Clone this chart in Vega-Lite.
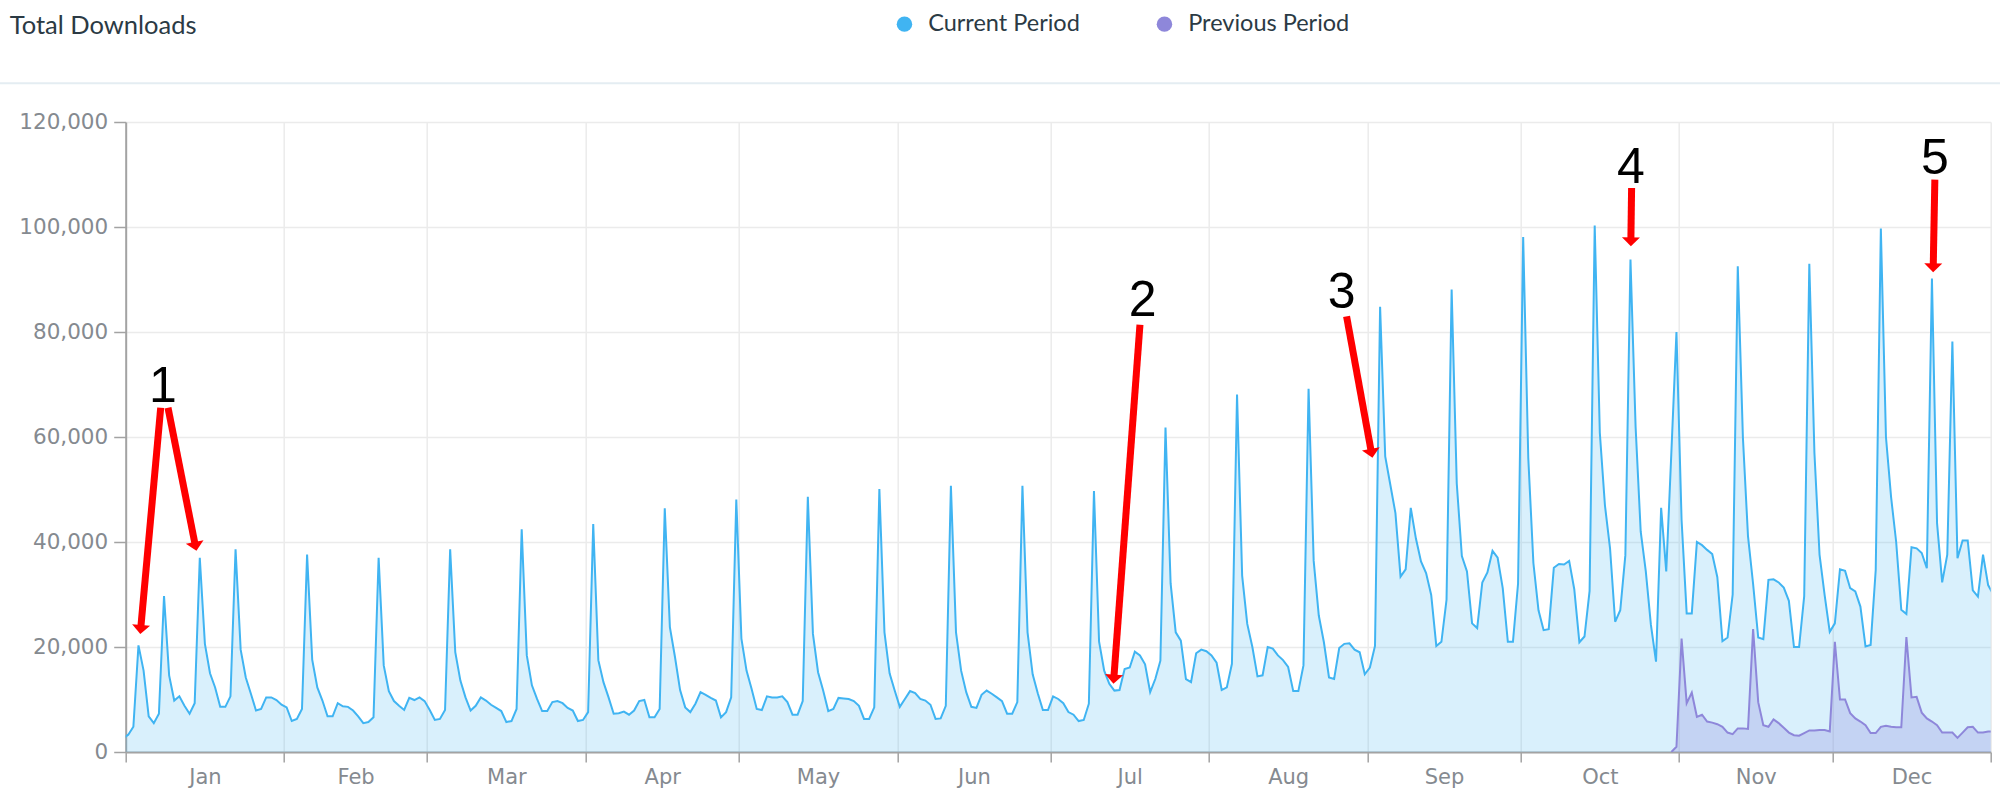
{
  "$schema": "https://vega.github.io/schema/vega-lite/v6.json",
  "width": 1865,
  "height": 630,
  "autosize": {"type": "none"},
  "padding": {"left": 125.7, "top": 122, "right": 9.3, "bottom": 43},
  "background": "white",
  "config": {"view": {"stroke": null}, "font": "DejaVu Sans"},
  "title": {"text": "Total Downloads", "anchor": "start", "frame": "group", "font": "Lato", "fontSize": 25.5, "fontWeight": "normal", "color": "#2b3a44", "dx": -116, "dy": 47, "offset": 0, "baseline": "alphabetic"},
  "datasets": {
    "downloads": [
      {"day":"2018-12-31T12:00","period":"Current Period","downloads":2600},
      {"day":"2019-01-01T12:00","period":"Current Period","downloads":3300},
      {"day":"2019-01-02T12:00","period":"Current Period","downloads":4800},
      {"day":"2019-01-03T12:00","period":"Current Period","downloads":20300},
      {"day":"2019-01-04T12:00","period":"Current Period","downloads":15500},
      {"day":"2019-01-05T12:00","period":"Current Period","downloads":6800},
      {"day":"2019-01-06T12:00","period":"Current Period","downloads":5500},
      {"day":"2019-01-07T12:00","period":"Current Period","downloads":7300},
      {"day":"2019-01-08T12:00","period":"Current Period","downloads":29700},
      {"day":"2019-01-09T12:00","period":"Current Period","downloads":14600},
      {"day":"2019-01-10T12:00","period":"Current Period","downloads":9800},
      {"day":"2019-01-11T12:00","period":"Current Period","downloads":10600},
      {"day":"2019-01-12T12:00","period":"Current Period","downloads":8800},
      {"day":"2019-01-13T12:00","period":"Current Period","downloads":7300},
      {"day":"2019-01-14T12:00","period":"Current Period","downloads":9300},
      {"day":"2019-01-15T12:00","period":"Current Period","downloads":37000},
      {"day":"2019-01-16T12:00","period":"Current Period","downloads":20600},
      {"day":"2019-01-17T12:00","period":"Current Period","downloads":15000},
      {"day":"2019-01-18T12:00","period":"Current Period","downloads":12300},
      {"day":"2019-01-19T12:00","period":"Current Period","downloads":8600},
      {"day":"2019-01-20T12:00","period":"Current Period","downloads":8600},
      {"day":"2019-01-21T12:00","period":"Current Period","downloads":10600},
      {"day":"2019-01-22T12:00","period":"Current Period","downloads":38600},
      {"day":"2019-01-23T12:00","period":"Current Period","downloads":19500},
      {"day":"2019-01-24T12:00","period":"Current Period","downloads":14200},
      {"day":"2019-01-25T12:00","period":"Current Period","downloads":11100},
      {"day":"2019-01-26T12:00","period":"Current Period","downloads":7900},
      {"day":"2019-01-27T12:00","period":"Current Period","downloads":8200},
      {"day":"2019-01-28T12:00","period":"Current Period","downloads":10400},
      {"day":"2019-01-29T12:00","period":"Current Period","downloads":10400},
      {"day":"2019-01-30T12:00","period":"Current Period","downloads":9900},
      {"day":"2019-01-31T12:00","period":"Current Period","downloads":9000},
      {"day":"2019-02-01T12:00","period":"Current Period","downloads":8500},
      {"day":"2019-02-02T12:00","period":"Current Period","downloads":5900},
      {"day":"2019-02-03T12:00","period":"Current Period","downloads":6300},
      {"day":"2019-02-04T12:00","period":"Current Period","downloads":8200},
      {"day":"2019-02-05T12:00","period":"Current Period","downloads":37600},
      {"day":"2019-02-06T12:00","period":"Current Period","downloads":17600},
      {"day":"2019-02-07T12:00","period":"Current Period","downloads":12300},
      {"day":"2019-02-08T12:00","period":"Current Period","downloads":9800},
      {"day":"2019-02-09T12:00","period":"Current Period","downloads":6800},
      {"day":"2019-02-10T12:00","period":"Current Period","downloads":6800},
      {"day":"2019-02-11T12:00","period":"Current Period","downloads":9300},
      {"day":"2019-02-12T12:00","period":"Current Period","downloads":8700},
      {"day":"2019-02-13T12:00","period":"Current Period","downloads":8600},
      {"day":"2019-02-14T12:00","period":"Current Period","downloads":7900},
      {"day":"2019-02-15T12:00","period":"Current Period","downloads":6800},
      {"day":"2019-02-16T12:00","period":"Current Period","downloads":5500},
      {"day":"2019-02-17T12:00","period":"Current Period","downloads":5700},
      {"day":"2019-02-18T12:00","period":"Current Period","downloads":6600},
      {"day":"2019-02-19T12:00","period":"Current Period","downloads":37000},
      {"day":"2019-02-20T12:00","period":"Current Period","downloads":16500},
      {"day":"2019-02-21T12:00","period":"Current Period","downloads":11600},
      {"day":"2019-02-22T12:00","period":"Current Period","downloads":9700},
      {"day":"2019-02-23T12:00","period":"Current Period","downloads":8800},
      {"day":"2019-02-24T12:00","period":"Current Period","downloads":8000},
      {"day":"2019-02-25T12:00","period":"Current Period","downloads":10300},
      {"day":"2019-02-26T12:00","period":"Current Period","downloads":9900},
      {"day":"2019-02-27T12:00","period":"Current Period","downloads":10400},
      {"day":"2019-02-28T12:00","period":"Current Period","downloads":9700},
      {"day":"2019-03-01T12:00","period":"Current Period","downloads":8000},
      {"day":"2019-03-02T12:00","period":"Current Period","downloads":6100},
      {"day":"2019-03-03T12:00","period":"Current Period","downloads":6300},
      {"day":"2019-03-04T12:00","period":"Current Period","downloads":8000},
      {"day":"2019-03-05T12:00","period":"Current Period","downloads":38600},
      {"day":"2019-03-06T12:00","period":"Current Period","downloads":19000},
      {"day":"2019-03-07T12:00","period":"Current Period","downloads":13600},
      {"day":"2019-03-08T12:00","period":"Current Period","downloads":10400},
      {"day":"2019-03-09T12:00","period":"Current Period","downloads":7900},
      {"day":"2019-03-10T12:00","period":"Current Period","downloads":8800},
      {"day":"2019-03-11T12:00","period":"Current Period","downloads":10400},
      {"day":"2019-03-12T12:00","period":"Current Period","downloads":9800},
      {"day":"2019-03-13T12:00","period":"Current Period","downloads":9000},
      {"day":"2019-03-14T12:00","period":"Current Period","downloads":8400},
      {"day":"2019-03-15T12:00","period":"Current Period","downloads":7800},
      {"day":"2019-03-16T12:00","period":"Current Period","downloads":5700},
      {"day":"2019-03-17T12:00","period":"Current Period","downloads":5900},
      {"day":"2019-03-18T12:00","period":"Current Period","downloads":8200},
      {"day":"2019-03-19T12:00","period":"Current Period","downloads":42400},
      {"day":"2019-03-20T12:00","period":"Current Period","downloads":18400},
      {"day":"2019-03-21T12:00","period":"Current Period","downloads":12700},
      {"day":"2019-03-22T12:00","period":"Current Period","downloads":10100},
      {"day":"2019-03-23T12:00","period":"Current Period","downloads":7800},
      {"day":"2019-03-24T12:00","period":"Current Period","downloads":7800},
      {"day":"2019-03-25T12:00","period":"Current Period","downloads":9500},
      {"day":"2019-03-26T12:00","period":"Current Period","downloads":9700},
      {"day":"2019-03-27T12:00","period":"Current Period","downloads":9300},
      {"day":"2019-03-28T12:00","period":"Current Period","downloads":8400},
      {"day":"2019-03-29T12:00","period":"Current Period","downloads":7900},
      {"day":"2019-03-30T12:00","period":"Current Period","downloads":5900},
      {"day":"2019-03-31T12:00","period":"Current Period","downloads":6100},
      {"day":"2019-04-01T12:00","period":"Current Period","downloads":7600},
      {"day":"2019-04-02T12:00","period":"Current Period","downloads":43400},
      {"day":"2019-04-03T12:00","period":"Current Period","downloads":17500},
      {"day":"2019-04-04T12:00","period":"Current Period","downloads":13300},
      {"day":"2019-04-05T12:00","period":"Current Period","downloads":10400},
      {"day":"2019-04-06T12:00","period":"Current Period","downloads":7300},
      {"day":"2019-04-07T12:00","period":"Current Period","downloads":7400},
      {"day":"2019-04-08T12:00","period":"Current Period","downloads":7700},
      {"day":"2019-04-09T12:00","period":"Current Period","downloads":7100},
      {"day":"2019-04-10T12:00","period":"Current Period","downloads":7900},
      {"day":"2019-04-11T12:00","period":"Current Period","downloads":9700},
      {"day":"2019-04-12T12:00","period":"Current Period","downloads":9900},
      {"day":"2019-04-13T12:00","period":"Current Period","downloads":6600},
      {"day":"2019-04-14T12:00","period":"Current Period","downloads":6600},
      {"day":"2019-04-15T12:00","period":"Current Period","downloads":8200},
      {"day":"2019-04-16T12:00","period":"Current Period","downloads":46400},
      {"day":"2019-04-17T12:00","period":"Current Period","downloads":23800},
      {"day":"2019-04-18T12:00","period":"Current Period","downloads":18100},
      {"day":"2019-04-19T12:00","period":"Current Period","downloads":11800},
      {"day":"2019-04-20T12:00","period":"Current Period","downloads":8500},
      {"day":"2019-04-21T12:00","period":"Current Period","downloads":7600},
      {"day":"2019-04-22T12:00","period":"Current Period","downloads":9200},
      {"day":"2019-04-23T12:00","period":"Current Period","downloads":11400},
      {"day":"2019-04-24T12:00","period":"Current Period","downloads":10900},
      {"day":"2019-04-25T12:00","period":"Current Period","downloads":10300},
      {"day":"2019-04-26T12:00","period":"Current Period","downloads":9800},
      {"day":"2019-04-27T12:00","period":"Current Period","downloads":6600},
      {"day":"2019-04-28T12:00","period":"Current Period","downloads":7600},
      {"day":"2019-04-29T12:00","period":"Current Period","downloads":10400},
      {"day":"2019-04-30T12:00","period":"Current Period","downloads":48100},
      {"day":"2019-05-01T12:00","period":"Current Period","downloads":21600},
      {"day":"2019-05-02T12:00","period":"Current Period","downloads":15500},
      {"day":"2019-05-03T12:00","period":"Current Period","downloads":12000},
      {"day":"2019-05-04T12:00","period":"Current Period","downloads":8200},
      {"day":"2019-05-05T12:00","period":"Current Period","downloads":8000},
      {"day":"2019-05-06T12:00","period":"Current Period","downloads":10600},
      {"day":"2019-05-07T12:00","period":"Current Period","downloads":10400},
      {"day":"2019-05-08T12:00","period":"Current Period","downloads":10400},
      {"day":"2019-05-09T12:00","period":"Current Period","downloads":10600},
      {"day":"2019-05-10T12:00","period":"Current Period","downloads":9500},
      {"day":"2019-05-11T12:00","period":"Current Period","downloads":7100},
      {"day":"2019-05-12T12:00","period":"Current Period","downloads":7100},
      {"day":"2019-05-13T12:00","period":"Current Period","downloads":9700},
      {"day":"2019-05-14T12:00","period":"Current Period","downloads":48600},
      {"day":"2019-05-15T12:00","period":"Current Period","downloads":22500},
      {"day":"2019-05-16T12:00","period":"Current Period","downloads":15200},
      {"day":"2019-05-17T12:00","period":"Current Period","downloads":11700},
      {"day":"2019-05-18T12:00","period":"Current Period","downloads":7800},
      {"day":"2019-05-19T12:00","period":"Current Period","downloads":8200},
      {"day":"2019-05-20T12:00","period":"Current Period","downloads":10300},
      {"day":"2019-05-21T12:00","period":"Current Period","downloads":10200},
      {"day":"2019-05-22T12:00","period":"Current Period","downloads":10100},
      {"day":"2019-05-23T12:00","period":"Current Period","downloads":9700},
      {"day":"2019-05-24T12:00","period":"Current Period","downloads":8800},
      {"day":"2019-05-25T12:00","period":"Current Period","downloads":6300},
      {"day":"2019-05-26T12:00","period":"Current Period","downloads":6300},
      {"day":"2019-05-27T12:00","period":"Current Period","downloads":8500},
      {"day":"2019-05-28T12:00","period":"Current Period","downloads":50100},
      {"day":"2019-05-29T12:00","period":"Current Period","downloads":22800},
      {"day":"2019-05-30T12:00","period":"Current Period","downloads":15000},
      {"day":"2019-05-31T12:00","period":"Current Period","downloads":11700},
      {"day":"2019-06-01T12:00","period":"Current Period","downloads":8600},
      {"day":"2019-06-02T12:00","period":"Current Period","downloads":10100},
      {"day":"2019-06-03T12:00","period":"Current Period","downloads":11600},
      {"day":"2019-06-04T12:00","period":"Current Period","downloads":11200},
      {"day":"2019-06-05T12:00","period":"Current Period","downloads":10100},
      {"day":"2019-06-06T12:00","period":"Current Period","downloads":9800},
      {"day":"2019-06-07T12:00","period":"Current Period","downloads":9000},
      {"day":"2019-06-08T12:00","period":"Current Period","downloads":6300},
      {"day":"2019-06-09T12:00","period":"Current Period","downloads":6400},
      {"day":"2019-06-10T12:00","period":"Current Period","downloads":8800},
      {"day":"2019-06-11T12:00","period":"Current Period","downloads":50700},
      {"day":"2019-06-12T12:00","period":"Current Period","downloads":22800},
      {"day":"2019-06-13T12:00","period":"Current Period","downloads":15500},
      {"day":"2019-06-14T12:00","period":"Current Period","downloads":11400},
      {"day":"2019-06-15T12:00","period":"Current Period","downloads":8600},
      {"day":"2019-06-16T12:00","period":"Current Period","downloads":8400},
      {"day":"2019-06-17T12:00","period":"Current Period","downloads":10900},
      {"day":"2019-06-18T12:00","period":"Current Period","downloads":11700},
      {"day":"2019-06-19T12:00","period":"Current Period","downloads":11100},
      {"day":"2019-06-20T12:00","period":"Current Period","downloads":10400},
      {"day":"2019-06-21T12:00","period":"Current Period","downloads":9700},
      {"day":"2019-06-22T12:00","period":"Current Period","downloads":7300},
      {"day":"2019-06-23T12:00","period":"Current Period","downloads":7300},
      {"day":"2019-06-24T12:00","period":"Current Period","downloads":9500},
      {"day":"2019-06-25T12:00","period":"Current Period","downloads":50700},
      {"day":"2019-06-26T12:00","period":"Current Period","downloads":22800},
      {"day":"2019-06-27T12:00","period":"Current Period","downloads":14800},
      {"day":"2019-06-28T12:00","period":"Current Period","downloads":11200},
      {"day":"2019-06-29T12:00","period":"Current Period","downloads":8000},
      {"day":"2019-06-30T12:00","period":"Current Period","downloads":8000},
      {"day":"2019-07-01T12:00","period":"Current Period","downloads":10600},
      {"day":"2019-07-02T12:00","period":"Current Period","downloads":10100},
      {"day":"2019-07-03T12:00","period":"Current Period","downloads":9300},
      {"day":"2019-07-04T12:00","period":"Current Period","downloads":7600},
      {"day":"2019-07-05T12:00","period":"Current Period","downloads":7100},
      {"day":"2019-07-06T12:00","period":"Current Period","downloads":5900},
      {"day":"2019-07-07T12:00","period":"Current Period","downloads":6100},
      {"day":"2019-07-08T12:00","period":"Current Period","downloads":9200},
      {"day":"2019-07-09T12:00","period":"Current Period","downloads":49700},
      {"day":"2019-07-10T12:00","period":"Current Period","downloads":21000},
      {"day":"2019-07-11T12:00","period":"Current Period","downloads":15500},
      {"day":"2019-07-12T12:00","period":"Current Period","downloads":13000},
      {"day":"2019-07-13T12:00","period":"Current Period","downloads":11700},
      {"day":"2019-07-14T12:00","period":"Current Period","downloads":11800},
      {"day":"2019-07-15T12:00","period":"Current Period","downloads":15800},
      {"day":"2019-07-16T12:00","period":"Current Period","downloads":16100},
      {"day":"2019-07-17T12:00","period":"Current Period","downloads":19100},
      {"day":"2019-07-18T12:00","period":"Current Period","downloads":18400},
      {"day":"2019-07-19T12:00","period":"Current Period","downloads":16700},
      {"day":"2019-07-20T12:00","period":"Current Period","downloads":11400},
      {"day":"2019-07-21T12:00","period":"Current Period","downloads":13900},
      {"day":"2019-07-22T12:00","period":"Current Period","downloads":17400},
      {"day":"2019-07-23T12:00","period":"Current Period","downloads":61800},
      {"day":"2019-07-24T12:00","period":"Current Period","downloads":32100},
      {"day":"2019-07-25T12:00","period":"Current Period","downloads":22800},
      {"day":"2019-07-26T12:00","period":"Current Period","downloads":21200},
      {"day":"2019-07-27T12:00","period":"Current Period","downloads":13900},
      {"day":"2019-07-28T12:00","period":"Current Period","downloads":13300},
      {"day":"2019-07-29T12:00","period":"Current Period","downloads":18800},
      {"day":"2019-07-30T12:00","period":"Current Period","downloads":19500},
      {"day":"2019-07-31T12:00","period":"Current Period","downloads":19200},
      {"day":"2019-08-01T12:00","period":"Current Period","downloads":18400},
      {"day":"2019-08-02T12:00","period":"Current Period","downloads":17000},
      {"day":"2019-08-03T12:00","period":"Current Period","downloads":11800},
      {"day":"2019-08-04T12:00","period":"Current Period","downloads":12300},
      {"day":"2019-08-05T12:00","period":"Current Period","downloads":16800},
      {"day":"2019-08-06T12:00","period":"Current Period","downloads":68100},
      {"day":"2019-08-07T12:00","period":"Current Period","downloads":33600},
      {"day":"2019-08-08T12:00","period":"Current Period","downloads":24400},
      {"day":"2019-08-09T12:00","period":"Current Period","downloads":20000},
      {"day":"2019-08-10T12:00","period":"Current Period","downloads":14400},
      {"day":"2019-08-11T12:00","period":"Current Period","downloads":14600},
      {"day":"2019-08-12T12:00","period":"Current Period","downloads":20000},
      {"day":"2019-08-13T12:00","period":"Current Period","downloads":19700},
      {"day":"2019-08-14T12:00","period":"Current Period","downloads":18400},
      {"day":"2019-08-15T12:00","period":"Current Period","downloads":17500},
      {"day":"2019-08-16T12:00","period":"Current Period","downloads":16200},
      {"day":"2019-08-17T12:00","period":"Current Period","downloads":11600},
      {"day":"2019-08-18T12:00","period":"Current Period","downloads":11600},
      {"day":"2019-08-19T12:00","period":"Current Period","downloads":16500},
      {"day":"2019-08-20T12:00","period":"Current Period","downloads":69200},
      {"day":"2019-08-21T12:00","period":"Current Period","downloads":36400},
      {"day":"2019-08-22T12:00","period":"Current Period","downloads":26000},
      {"day":"2019-08-23T12:00","period":"Current Period","downloads":20900},
      {"day":"2019-08-24T12:00","period":"Current Period","downloads":14200},
      {"day":"2019-08-25T12:00","period":"Current Period","downloads":13900},
      {"day":"2019-08-26T12:00","period":"Current Period","downloads":19800},
      {"day":"2019-08-27T12:00","period":"Current Period","downloads":20600},
      {"day":"2019-08-28T12:00","period":"Current Period","downloads":20700},
      {"day":"2019-08-29T12:00","period":"Current Period","downloads":19500},
      {"day":"2019-08-30T12:00","period":"Current Period","downloads":19000},
      {"day":"2019-08-31T12:00","period":"Current Period","downloads":14800},
      {"day":"2019-09-01T12:00","period":"Current Period","downloads":16100},
      {"day":"2019-09-02T12:00","period":"Current Period","downloads":20200},
      {"day":"2019-09-03T12:00","period":"Current Period","downloads":84800},
      {"day":"2019-09-04T12:00","period":"Current Period","downloads":56300},
      {"day":"2019-09-05T12:00","period":"Current Period","downloads":50900},
      {"day":"2019-09-06T12:00","period":"Current Period","downloads":45500},
      {"day":"2019-09-07T12:00","period":"Current Period","downloads":33400},
      {"day":"2019-09-08T12:00","period":"Current Period","downloads":34800},
      {"day":"2019-09-09T12:00","period":"Current Period","downloads":46500},
      {"day":"2019-09-10T12:00","period":"Current Period","downloads":40700},
      {"day":"2019-09-11T12:00","period":"Current Period","downloads":36300},
      {"day":"2019-09-12T12:00","period":"Current Period","downloads":34100},
      {"day":"2019-09-13T12:00","period":"Current Period","downloads":29900},
      {"day":"2019-09-14T12:00","period":"Current Period","downloads":20200},
      {"day":"2019-09-15T12:00","period":"Current Period","downloads":21000},
      {"day":"2019-09-16T12:00","period":"Current Period","downloads":29000},
      {"day":"2019-09-17T12:00","period":"Current Period","downloads":88100},
      {"day":"2019-09-18T12:00","period":"Current Period","downloads":51200},
      {"day":"2019-09-19T12:00","period":"Current Period","downloads":37300},
      {"day":"2019-09-20T12:00","period":"Current Period","downloads":34400},
      {"day":"2019-09-21T12:00","period":"Current Period","downloads":24500},
      {"day":"2019-09-22T12:00","period":"Current Period","downloads":23600},
      {"day":"2019-09-23T12:00","period":"Current Period","downloads":32300},
      {"day":"2019-09-24T12:00","period":"Current Period","downloads":34200},
      {"day":"2019-09-25T12:00","period":"Current Period","downloads":38300},
      {"day":"2019-09-26T12:00","period":"Current Period","downloads":37000},
      {"day":"2019-09-27T12:00","period":"Current Period","downloads":31200},
      {"day":"2019-09-28T12:00","period":"Current Period","downloads":21000},
      {"day":"2019-09-29T12:00","period":"Current Period","downloads":21000},
      {"day":"2019-09-30T12:00","period":"Current Period","downloads":32100},
      {"day":"2019-10-01T12:00","period":"Current Period","downloads":98100},
      {"day":"2019-10-02T12:00","period":"Current Period","downloads":56000},
      {"day":"2019-10-03T12:00","period":"Current Period","downloads":36000},
      {"day":"2019-10-04T12:00","period":"Current Period","downloads":27000},
      {"day":"2019-10-05T12:00","period":"Current Period","downloads":23200},
      {"day":"2019-10-06T12:00","period":"Current Period","downloads":23400},
      {"day":"2019-10-07T12:00","period":"Current Period","downloads":35100},
      {"day":"2019-10-08T12:00","period":"Current Period","downloads":35800},
      {"day":"2019-10-09T12:00","period":"Current Period","downloads":35700},
      {"day":"2019-10-10T12:00","period":"Current Period","downloads":36400},
      {"day":"2019-10-11T12:00","period":"Current Period","downloads":31000},
      {"day":"2019-10-12T12:00","period":"Current Period","downloads":20900},
      {"day":"2019-10-13T12:00","period":"Current Period","downloads":22000},
      {"day":"2019-10-14T12:00","period":"Current Period","downloads":30700},
      {"day":"2019-10-15T12:00","period":"Current Period","downloads":100300},
      {"day":"2019-10-16T12:00","period":"Current Period","downloads":60800},
      {"day":"2019-10-17T12:00","period":"Current Period","downloads":47000},
      {"day":"2019-10-18T12:00","period":"Current Period","downloads":38800},
      {"day":"2019-10-19T12:00","period":"Current Period","downloads":24800},
      {"day":"2019-10-20T12:00","period":"Current Period","downloads":27000},
      {"day":"2019-10-21T12:00","period":"Current Period","downloads":37500},
      {"day":"2019-10-22T12:00","period":"Current Period","downloads":93800},
      {"day":"2019-10-23T12:00","period":"Current Period","downloads":62000},
      {"day":"2019-10-24T12:00","period":"Current Period","downloads":42000},
      {"day":"2019-10-25T12:00","period":"Current Period","downloads":34400},
      {"day":"2019-10-26T12:00","period":"Current Period","downloads":24200},
      {"day":"2019-10-27T12:00","period":"Current Period","downloads":17200},
      {"day":"2019-10-28T12:00","period":"Current Period","downloads":46500},
      {"day":"2019-10-29T12:00","period":"Current Period","downloads":34400},
      {"day":"2019-10-30T12:00","period":"Current Period","downloads":57000},
      {"day":"2019-10-31T12:00","period":"Current Period","downloads":80000},
      {"day":"2019-11-01T12:00","period":"Current Period","downloads":44200},
      {"day":"2019-11-02T12:00","period":"Current Period","downloads":26400},
      {"day":"2019-11-03T12:00","period":"Current Period","downloads":26400},
      {"day":"2019-11-04T12:00","period":"Current Period","downloads":40000},
      {"day":"2019-11-05T12:00","period":"Current Period","downloads":39400},
      {"day":"2019-11-06T12:00","period":"Current Period","downloads":38500},
      {"day":"2019-11-07T12:00","period":"Current Period","downloads":37700},
      {"day":"2019-11-08T12:00","period":"Current Period","downloads":33300},
      {"day":"2019-11-09T12:00","period":"Current Period","downloads":21100},
      {"day":"2019-11-10T12:00","period":"Current Period","downloads":21800},
      {"day":"2019-11-11T12:00","period":"Current Period","downloads":30000},
      {"day":"2019-11-12T12:00","period":"Current Period","downloads":92500},
      {"day":"2019-11-13T12:00","period":"Current Period","downloads":60000},
      {"day":"2019-11-14T12:00","period":"Current Period","downloads":41100},
      {"day":"2019-11-15T12:00","period":"Current Period","downloads":32000},
      {"day":"2019-11-16T12:00","period":"Current Period","downloads":21800},
      {"day":"2019-11-17T12:00","period":"Current Period","downloads":21500},
      {"day":"2019-11-18T12:00","period":"Current Period","downloads":32800},
      {"day":"2019-11-19T12:00","period":"Current Period","downloads":32900},
      {"day":"2019-11-20T12:00","period":"Current Period","downloads":32300},
      {"day":"2019-11-21T12:00","period":"Current Period","downloads":31300},
      {"day":"2019-11-22T12:00","period":"Current Period","downloads":28800},
      {"day":"2019-11-23T12:00","period":"Current Period","downloads":20000},
      {"day":"2019-11-24T12:00","period":"Current Period","downloads":20000},
      {"day":"2019-11-25T12:00","period":"Current Period","downloads":29700},
      {"day":"2019-11-26T12:00","period":"Current Period","downloads":93000},
      {"day":"2019-11-27T12:00","period":"Current Period","downloads":57000},
      {"day":"2019-11-28T12:00","period":"Current Period","downloads":37600},
      {"day":"2019-11-29T12:00","period":"Current Period","downloads":29900},
      {"day":"2019-11-30T12:00","period":"Current Period","downloads":22900},
      {"day":"2019-12-01T12:00","period":"Current Period","downloads":24500},
      {"day":"2019-12-02T12:00","period":"Current Period","downloads":34800},
      {"day":"2019-12-03T12:00","period":"Current Period","downloads":34500},
      {"day":"2019-12-04T12:00","period":"Current Period","downloads":31200},
      {"day":"2019-12-05T12:00","period":"Current Period","downloads":30600},
      {"day":"2019-12-06T12:00","period":"Current Period","downloads":27700},
      {"day":"2019-12-07T12:00","period":"Current Period","downloads":20100},
      {"day":"2019-12-08T12:00","period":"Current Period","downloads":20400},
      {"day":"2019-12-09T12:00","period":"Current Period","downloads":34700},
      {"day":"2019-12-10T12:00","period":"Current Period","downloads":99700},
      {"day":"2019-12-11T12:00","period":"Current Period","downloads":60000},
      {"day":"2019-12-12T12:00","period":"Current Period","downloads":48600},
      {"day":"2019-12-13T12:00","period":"Current Period","downloads":40000},
      {"day":"2019-12-14T12:00","period":"Current Period","downloads":27100},
      {"day":"2019-12-15T12:00","period":"Current Period","downloads":26300},
      {"day":"2019-12-16T12:00","period":"Current Period","downloads":39000},
      {"day":"2019-12-17T12:00","period":"Current Period","downloads":38800},
      {"day":"2019-12-18T12:00","period":"Current Period","downloads":37900},
      {"day":"2019-12-19T12:00","period":"Current Period","downloads":35000},
      {"day":"2019-12-20T12:00","period":"Current Period","downloads":90200},
      {"day":"2019-12-21T12:00","period":"Current Period","downloads":43600},
      {"day":"2019-12-22T12:00","period":"Current Period","downloads":32300},
      {"day":"2019-12-23T12:00","period":"Current Period","downloads":37600},
      {"day":"2019-12-24T12:00","period":"Current Period","downloads":78200},
      {"day":"2019-12-25T12:00","period":"Current Period","downloads":36900},
      {"day":"2019-12-26T12:00","period":"Current Period","downloads":40300},
      {"day":"2019-12-27T12:00","period":"Current Period","downloads":40300},
      {"day":"2019-12-28T12:00","period":"Current Period","downloads":30800},
      {"day":"2019-12-29T12:00","period":"Current Period","downloads":29600},
      {"day":"2019-12-30T12:00","period":"Current Period","downloads":37600},
      {"day":"2019-12-31T12:00","period":"Current Period","downloads":31800},
      {"day":"2020-01-01T12:00","period":"Current Period","downloads":30000},
      {"day":"2019-10-30T12:00","period":"Previous Period","downloads":0},
      {"day":"2019-10-31T12:00","period":"Previous Period","downloads":1000},
      {"day":"2019-11-01T12:00","period":"Previous Period","downloads":21600},
      {"day":"2019-11-02T12:00","period":"Previous Period","downloads":9300},
      {"day":"2019-11-03T12:00","period":"Previous Period","downloads":11300},
      {"day":"2019-11-04T12:00","period":"Previous Period","downloads":6700},
      {"day":"2019-11-05T12:00","period":"Previous Period","downloads":7100},
      {"day":"2019-11-06T12:00","period":"Previous Period","downloads":5800},
      {"day":"2019-11-07T12:00","period":"Previous Period","downloads":5600},
      {"day":"2019-11-08T12:00","period":"Previous Period","downloads":5300},
      {"day":"2019-11-09T12:00","period":"Previous Period","downloads":4800},
      {"day":"2019-11-10T12:00","period":"Previous Period","downloads":3700},
      {"day":"2019-11-11T12:00","period":"Previous Period","downloads":3400},
      {"day":"2019-11-12T12:00","period":"Previous Period","downloads":4500},
      {"day":"2019-11-13T12:00","period":"Previous Period","downloads":4500},
      {"day":"2019-11-14T12:00","period":"Previous Period","downloads":4400},
      {"day":"2019-11-15T12:00","period":"Previous Period","downloads":23400},
      {"day":"2019-11-16T12:00","period":"Previous Period","downloads":9500},
      {"day":"2019-11-17T12:00","period":"Previous Period","downloads":5100},
      {"day":"2019-11-18T12:00","period":"Previous Period","downloads":4800},
      {"day":"2019-11-19T12:00","period":"Previous Period","downloads":6200},
      {"day":"2019-11-20T12:00","period":"Previous Period","downloads":5500},
      {"day":"2019-11-21T12:00","period":"Previous Period","downloads":4600},
      {"day":"2019-11-22T12:00","period":"Previous Period","downloads":3700},
      {"day":"2019-11-23T12:00","period":"Previous Period","downloads":3200},
      {"day":"2019-11-24T12:00","period":"Previous Period","downloads":3100},
      {"day":"2019-11-25T12:00","period":"Previous Period","downloads":3600},
      {"day":"2019-11-26T12:00","period":"Previous Period","downloads":4100},
      {"day":"2019-11-27T12:00","period":"Previous Period","downloads":4100},
      {"day":"2019-11-28T12:00","period":"Previous Period","downloads":4200},
      {"day":"2019-11-29T12:00","period":"Previous Period","downloads":4200},
      {"day":"2019-11-30T12:00","period":"Previous Period","downloads":3900},
      {"day":"2019-12-01T12:00","period":"Previous Period","downloads":21000},
      {"day":"2019-12-02T12:00","period":"Previous Period","downloads":10000},
      {"day":"2019-12-03T12:00","period":"Previous Period","downloads":10000},
      {"day":"2019-12-04T12:00","period":"Previous Period","downloads":7400},
      {"day":"2019-12-05T12:00","period":"Previous Period","downloads":6400},
      {"day":"2019-12-06T12:00","period":"Previous Period","downloads":5800},
      {"day":"2019-12-07T12:00","period":"Previous Period","downloads":5100},
      {"day":"2019-12-08T12:00","period":"Previous Period","downloads":3600},
      {"day":"2019-12-09T12:00","period":"Previous Period","downloads":3600},
      {"day":"2019-12-10T12:00","period":"Previous Period","downloads":4800},
      {"day":"2019-12-11T12:00","period":"Previous Period","downloads":5000},
      {"day":"2019-12-12T12:00","period":"Previous Period","downloads":4800},
      {"day":"2019-12-13T12:00","period":"Previous Period","downloads":4700},
      {"day":"2019-12-14T12:00","period":"Previous Period","downloads":4700},
      {"day":"2019-12-15T12:00","period":"Previous Period","downloads":21900},
      {"day":"2019-12-16T12:00","period":"Previous Period","downloads":10400},
      {"day":"2019-12-17T12:00","period":"Previous Period","downloads":10500},
      {"day":"2019-12-18T12:00","period":"Previous Period","downloads":7500},
      {"day":"2019-12-19T12:00","period":"Previous Period","downloads":6400},
      {"day":"2019-12-20T12:00","period":"Previous Period","downloads":5800},
      {"day":"2019-12-21T12:00","period":"Previous Period","downloads":5100},
      {"day":"2019-12-22T12:00","period":"Previous Period","downloads":3700},
      {"day":"2019-12-23T12:00","period":"Previous Period","downloads":3700},
      {"day":"2019-12-24T12:00","period":"Previous Period","downloads":3700},
      {"day":"2019-12-25T12:00","period":"Previous Period","downloads":2700},
      {"day":"2019-12-26T12:00","period":"Previous Period","downloads":3700},
      {"day":"2019-12-27T12:00","period":"Previous Period","downloads":4700},
      {"day":"2019-12-28T12:00","period":"Previous Period","downloads":4800},
      {"day":"2019-12-29T12:00","period":"Previous Period","downloads":3700},
      {"day":"2019-12-30T12:00","period":"Previous Period","downloads":3700},
      {"day":"2019-12-31T12:00","period":"Previous Period","downloads":3900},
      {"day":"2020-01-01T12:00","period":"Previous Period","downloads":3900}
    ],
    "arrows": [
      {"arrow":"1a","fromDay":"2019-01-07T20:24","fromValue":65570,"toDay":"2019-01-03T23:17","toValue":23830,"tipDay":"2019-01-03T20:34","tipValue":22490},
      {"arrow":"1b","fromDay":"2019-01-09T06:43","fromValue":65570,"toDay":"2019-01-14T13:26","toValue":39630,"tipDay":"2019-01-14T20:10","tipValue":38310},
      {"arrow":"2","fromDay":"2019-07-18T12:00","fromValue":81390,"toDay":"2019-07-13T09:50","toValue":14350,"tipDay":"2019-07-13T07:26","tipValue":13020},
      {"arrow":"3","fromDay":"2019-08-27T22:34","fromValue":82970,"toDay":"2019-09-01T17:46","toValue":57350,"tipDay":"2019-09-02T00:00","tipValue":56040},
      {"arrow":"4","fromDay":"2019-10-22T17:17","fromValue":107440,"toDay":"2019-10-22T13:55","toValue":97650,"tipDay":"2019-10-22T13:55","tipValue":96310},
      {"arrow":"5","fromDay":"2019-12-21T01:40","fromValue":109020,"toDay":"2019-12-20T18:14","toValue":92690,"tipDay":"2019-12-20T17:46","tipValue":91360}
    ],
    "notes": [
      {"label":"1","day":"2019-01-08T07:12","value":66710},
      {"label":"2","day":"2019-07-19T00:30","value":82970},
      {"label":"3","day":"2019-08-26T23:00","value":84570},
      {"label":"4","day":"2019-10-22T14:00","value":108390},
      {"label":"5","day":"2019-12-21T01:40","value":110170}
    ],
    "separator": [{"line": "header"}]
  },
  "layer": [
    {
      "data": {"name": "separator"},
      "mark": {"type": "rule", "color": "#e4edf2", "strokeWidth": 2, "clip": false},
      "encoding": {
        "x": {"datum": {"year": 2018, "month": 12, "date": 7}, "type": "temporal"},
        "x2": {"datum": {"year": 2020, "month": 1, "date": 3}},
        "y": {"datum": 127400, "type": "quantitative"}
      }
    },
    {
      "data": {"name": "downloads"},
      "transform": [{"filter": "datum.period == 'Current Period'"}],
      "mark": {"type": "area", "fillOpacity": 0.2, "clip": true},
      "encoding": {
        "x": {"field": "day", "type": "temporal"},
        "y": {"field": "downloads", "type": "quantitative", "stack": null},
        "color": {"field": "period", "type": "nominal"}
      }
    },
    {
      "data": {"name": "downloads"},
      "transform": [{"filter": "datum.period == 'Previous Period'"}],
      "mark": {"type": "area", "fillOpacity": 0.28, "clip": true},
      "encoding": {
        "x": {"field": "day", "type": "temporal"},
        "y": {"field": "downloads", "type": "quantitative", "stack": null},
        "color": {"field": "period", "type": "nominal"}
      }
    },
    {
      "data": {"name": "downloads"},
      "mark": {"type": "line", "strokeWidth": 2, "clip": true},
      "encoding": {
        "x": {
          "field": "day", "type": "temporal",
          "scale": {"domain": [{"year": 2019, "month": 1, "date": 1}, {"year": 2020, "month": 1, "date": 1}], "nice": false},
          "axis": {
            "title": null,
            "tickCount": {"interval": "month", "step": 1},
            "format": "%b",
            "labelExpr": "year(datum.value) > 2019 ? '' : datum.label",
            "labelAlign": "center",
            "labelBaseline": "top",
            "labelOffset": {"condition": [{"test": "month(datum.value) == 1", "value": 71.5}, {"test": "month(datum.value) == 3 || month(datum.value) == 5 || month(datum.value) == 8 || month(datum.value) == 10", "value": 76.7}], "value": 79.2},
            "labelOverlap": false,
            "labelFlush": false,
            "labelBound": false,
            "labelFont": "DejaVu Sans",
            "labelFontSize": 21,
            "labelColor": "#858a90",
            "labelPadding": 4,
            "grid": true,
            "gridColor": "#ebebeb",
            "gridWidth": 1.5,
            "domainColor": "#a3a3a3",
            "domainWidth": 2,
            "tickColor": "#a3a3a3",
            "tickWidth": 1.5,
            "tickSize": 10
          }
        },
        "y": {
          "field": "downloads", "type": "quantitative",
          "scale": {"domain": [0, 120000], "nice": false},
          "axis": {
            "title": null,
            "values": [0, 20000, 40000, 60000, 80000, 100000, 120000],
            "labelExpr": "format(datum.value, ',')",
            "labelFont": "DejaVu Sans",
            "labelFontSize": 21.5,
            "labelColor": "#858a90",
            "labelPadding": 6,
            "grid": true,
            "gridColor": "#ebebeb",
            "gridWidth": 1.5,
            "domainColor": "#a3a3a3",
            "domainWidth": 2,
            "tickColor": "#a3a3a3",
            "tickWidth": 1.5,
            "tickSize": 12
          }
        },
        "color": {
          "field": "period", "type": "nominal",
          "scale": {"domain": ["Current Period", "Previous Period"], "range": ["#40b4f2", "#8e87da"]},
          "legend": {
            "title": null,
            "orient": "none",
            "legendX": 767,
            "legendY": -110,
            "direction": "horizontal",
            "symbolType": "circle",
            "symbolSize": 240,
            "symbolOpacity": 1,
            "symbolStrokeWidth": 0,
            "labelFont": "Lato",
            "labelFontSize": 23.5,
            "labelColor": "#2b3a44",
            "labelOffset": 12,
            "labelLimit": 400,
            "columnPadding": 72
          }
        }
      }
    },
    {
      "data": {"name": "arrows"},
      "mark": {"type": "rule", "color": "#ff0000", "strokeWidth": 7, "strokeCap": "butt"},
      "encoding": {
        "x": {"field": "fromDay", "type": "temporal"},
        "y": {"field": "fromValue", "type": "quantitative"},
        "x2": {"field": "toDay"},
        "y2": {"field": "toValue"}
      }
    },
    {
      "data": {"name": "arrows"},
      "transform": [{"filter": "datum.arrow == '1a'"}],
      "mark": {"type": "point", "shape": "M-1,-1L1,-1L0,0Z", "filled": true, "color": "#ff0000", "opacity": 1, "size": 324, "angle": 5.2, "strokeWidth": 0},
      "encoding": {"x": {"field": "tipDay", "type": "temporal"}, "y": {"field": "tipValue", "type": "quantitative"}}
    },
    {
      "data": {"name": "arrows"},
      "transform": [{"filter": "datum.arrow == '1b'"}],
      "mark": {"type": "point", "shape": "M-1,-1L1,-1L0,0Z", "filled": true, "color": "#ff0000", "opacity": 1, "size": 324, "angle": -11.2, "strokeWidth": 0},
      "encoding": {"x": {"field": "tipDay", "type": "temporal"}, "y": {"field": "tipValue", "type": "quantitative"}}
    },
    {
      "data": {"name": "arrows"},
      "transform": [{"filter": "datum.arrow == '2'"}],
      "mark": {"type": "point", "shape": "M-1,-1L1,-1L0,0Z", "filled": true, "color": "#ff0000", "opacity": 1, "size": 324, "angle": 4.2, "strokeWidth": 0},
      "encoding": {"x": {"field": "tipDay", "type": "temporal"}, "y": {"field": "tipValue", "type": "quantitative"}}
    },
    {
      "data": {"name": "arrows"},
      "transform": [{"filter": "datum.arrow == '3'"}],
      "mark": {"type": "point", "shape": "M-1,-1L1,-1L0,0Z", "filled": true, "color": "#ff0000", "opacity": 1, "size": 324, "angle": -10.4, "strokeWidth": 0},
      "encoding": {"x": {"field": "tipDay", "type": "temporal"}, "y": {"field": "tipValue", "type": "quantitative"}}
    },
    {
      "data": {"name": "arrows"},
      "transform": [{"filter": "datum.arrow == '4' || datum.arrow == '5'"}],
      "mark": {"type": "point", "shape": "M-1,-1L1,-1L0,0Z", "filled": true, "color": "#ff0000", "opacity": 1, "size": 324, "angle": 0.5, "strokeWidth": 0},
      "encoding": {"x": {"field": "tipDay", "type": "temporal"}, "y": {"field": "tipValue", "type": "quantitative"}}
    },
    {
      "data": {"name": "notes"},
      "mark": {"type": "text", "font": "Liberation Sans", "fontSize": 50, "color": "#000000", "align": "center", "baseline": "alphabetic"},
      "encoding": {
        "x": {"field": "day", "type": "temporal"},
        "y": {"field": "value", "type": "quantitative"},
        "text": {"field": "label", "type": "nominal"}
      }
    }
  ]
}
